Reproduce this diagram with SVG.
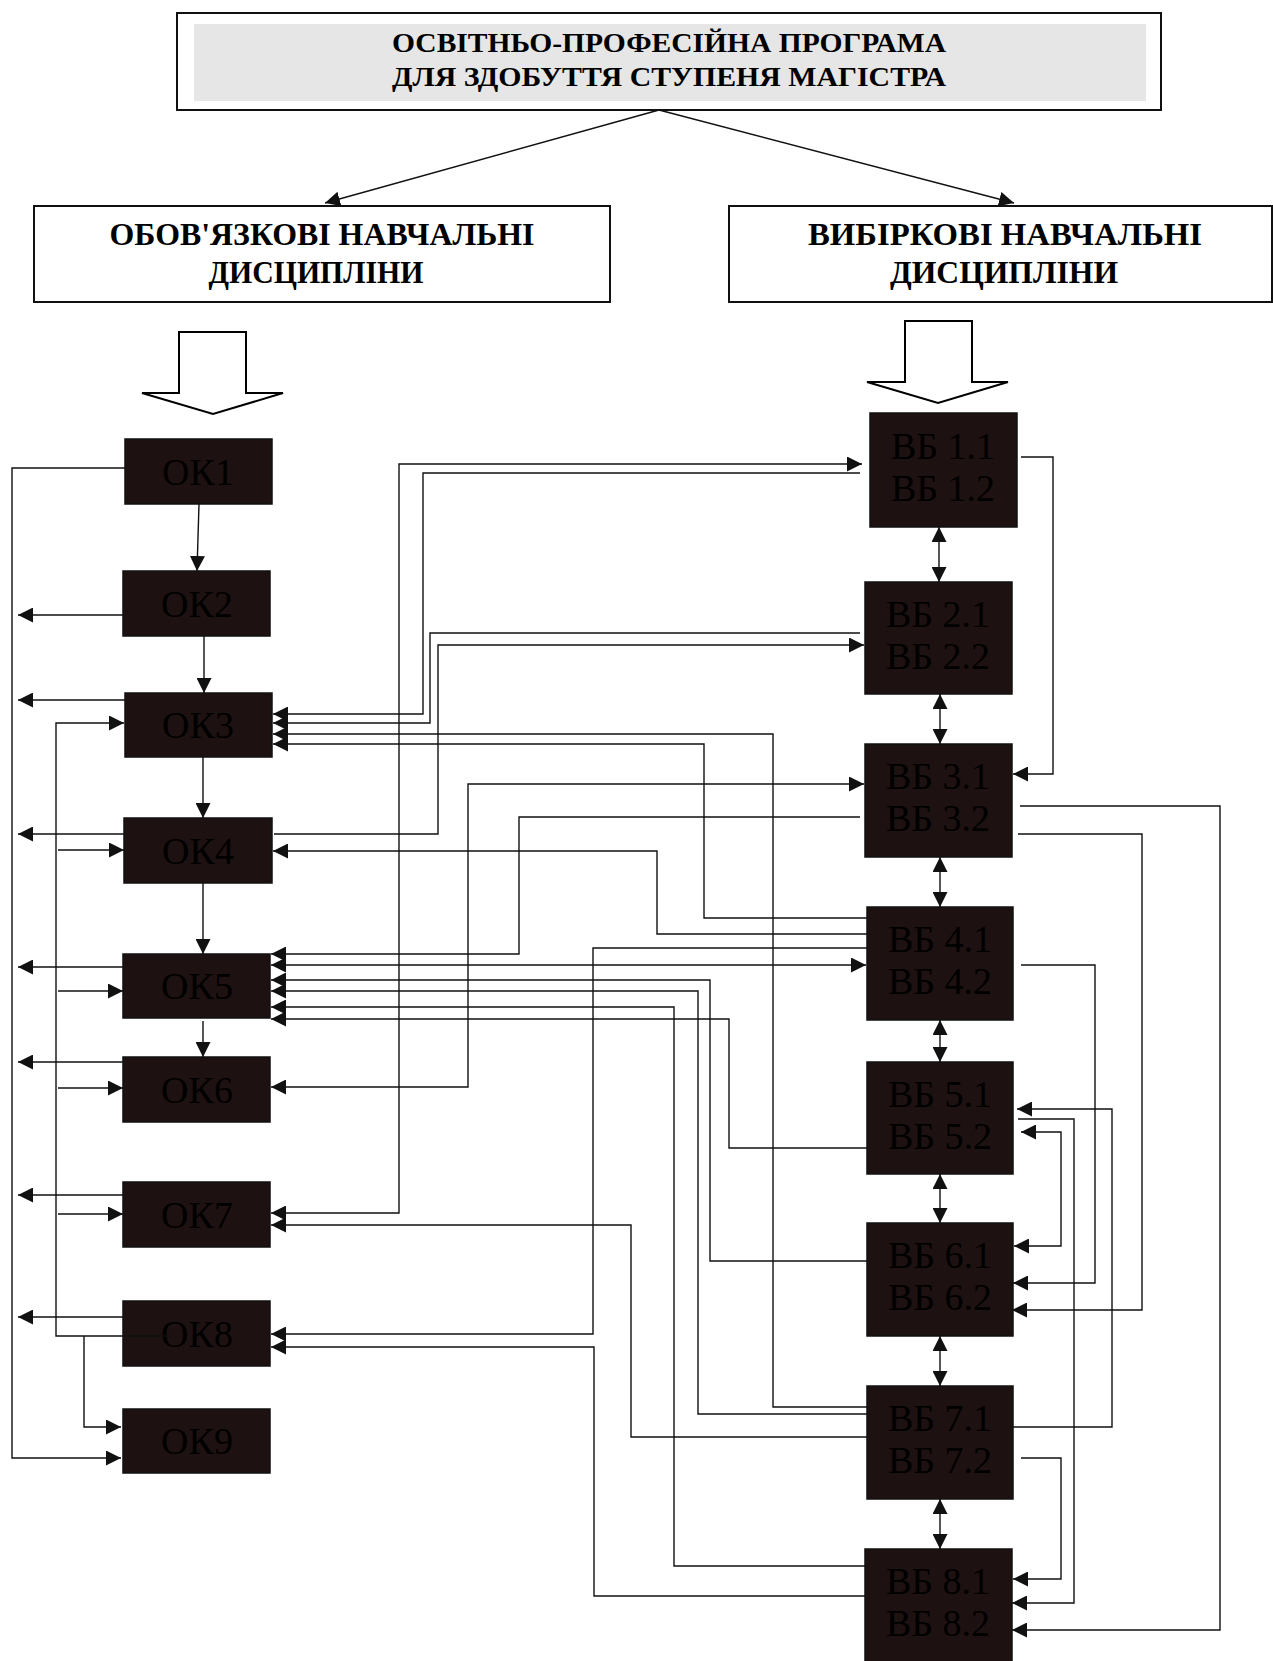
<svg xmlns="http://www.w3.org/2000/svg" width="1273" height="1661" viewBox="0 0 1273 1661">
<style>
.hdr{fill:#fff;stroke:#111;stroke-width:2}
.ht{font-family:"Liberation Serif",serif;font-weight:bold;fill:#000;text-anchor:middle}
.node{fill:#1e1111;stroke:#111;stroke-width:1.5}
.nt{font-family:"Liberation Serif",serif;font-size:38px;fill:#000;text-anchor:middle}
.c{fill:none;stroke:#111;stroke-width:1.4}
.e{marker-end:url(#a)}
.s{marker-start:url(#a)}
.hollow{fill:#fff;stroke:#000;stroke-width:2}
</style>
<defs>
<marker id="a" markerUnits="userSpaceOnUse" markerWidth="15" markerHeight="15" refX="15" refY="7.5" orient="auto-start-reverse">
<path d="M0,0 L15,7.5 L0,15 z" fill="#111"/>
</marker>
</defs>
<rect width="1273" height="1661" fill="#fff"/>

<g id="program">
<rect class="hdr" x="177" y="13" width="984" height="97"/>
<rect x="194" y="24" width="952" height="77" fill="#e6e6e6"/>
<text class="ht" x="669" y="52" font-size="27" textLength="554" lengthAdjust="spacingAndGlyphs">ОСВІТНЬО-ПРОФЕСІЙНА ПРОГРАМА</text>
<text class="ht" x="669" y="86" font-size="27" textLength="554" lengthAdjust="spacingAndGlyphs">ДЛЯ ЗДОБУТТЯ СТУПЕНЯ МАГІСТРА</text>
</g>

<g id="mandatory">
<rect class="hdr" x="34" y="206" width="576" height="96"/>
<text class="ht" x="322" y="245" font-size="32" textLength="425" lengthAdjust="spacingAndGlyphs">ОБОВ'ЯЗКОВІ НАВЧАЛЬНІ</text>
<text class="ht" x="316" y="283" font-size="32" textLength="215" lengthAdjust="spacingAndGlyphs">ДИСЦИПЛІНИ</text>
</g>

<g id="elective">
<rect class="hdr" x="729" y="206" width="543" height="96"/>
<text class="ht" x="1005" y="245" font-size="32" textLength="394" lengthAdjust="spacingAndGlyphs">ВИБІРКОВІ  НАВЧАЛЬНІ</text>
<text class="ht" x="1004" y="283" font-size="32" textLength="228" lengthAdjust="spacingAndGlyphs">ДИСЦИПЛІНИ</text>
</g>

<g id="hollow-arrows">
<polygon class="hollow" points="179,332 246,332 246,393 283,393 213,414 142,393 179,393"/>
<polygon class="hollow" points="905,321 972,321 972,382 1008,382 938,403 867,382 905,382"/>
</g>

<g id="OK1"><rect class="node" x="125" y="439" width="147" height="65"/><text class="nt" x="198" y="485">ОК1</text></g>
<g id="OK2"><rect class="node" x="123" y="571" width="147" height="65"/><text class="nt" x="197" y="617">ОК2</text></g>
<g id="OK3"><rect class="node" x="125" y="693" width="147" height="64"/><text class="nt" x="198" y="738">ОК3</text></g>
<g id="OK4"><rect class="node" x="124" y="818" width="148" height="65"/><text class="nt" x="198" y="864">ОК4</text></g>
<g id="OK5"><rect class="node" x="123" y="954" width="147" height="64"/><text class="nt" x="197" y="999">ОК5</text></g>
<g id="OK6"><rect class="node" x="123" y="1057" width="147" height="65"/><text class="nt" x="197" y="1103">ОК6</text></g>
<g id="OK7"><rect class="node" x="123" y="1182" width="147" height="65"/><text class="nt" x="197" y="1228">ОК7</text></g>
<g id="OK8"><rect class="node" x="123" y="1301" width="147" height="65"/><text class="nt" x="197" y="1347">ОК8</text></g>
<g id="OK9"><rect class="node" x="123" y="1409" width="147" height="64"/><text class="nt" x="197" y="1454">ОК9</text></g>

<g id="VB1"><rect class="node" x="870" y="413" width="147" height="114"/><text class="nt" x="943" y="459">ВБ 1.1</text><text class="nt" x="943" y="501">ВБ 1.2</text></g>
<g id="VB2"><rect class="node" x="865" y="582" width="147" height="112"/><text class="nt" x="938" y="627">ВБ 2.1</text><text class="nt" x="938" y="669">ВБ 2.2</text></g>
<g id="VB3"><rect class="node" x="865" y="744" width="147" height="113"/><text class="nt" x="938" y="789">ВБ 3.1</text><text class="nt" x="938" y="831">ВБ 3.2</text></g>
<g id="VB4"><rect class="node" x="867" y="907" width="146" height="113"/><text class="nt" x="940" y="952">ВБ 4.1</text><text class="nt" x="940" y="994">ВБ 4.2</text></g>
<g id="VB5"><rect class="node" x="867" y="1062" width="146" height="112"/><text class="nt" x="940" y="1107">ВБ 5.1</text><text class="nt" x="940" y="1149">ВБ 5.2</text></g>
<g id="VB6"><rect class="node" x="867" y="1223" width="146" height="113"/><text class="nt" x="940" y="1268">ВБ 6.1</text><text class="nt" x="940" y="1310">ВБ 6.2</text></g>
<g id="VB7"><rect class="node" x="867" y="1386" width="146" height="113"/><text class="nt" x="940" y="1431">ВБ 7.1</text><text class="nt" x="940" y="1473">ВБ 7.2</text></g>
<g id="VB8"><rect class="node" x="865" y="1549" width="147" height="130"/><text class="nt" x="938" y="1594">ВБ 8.1</text><text class="nt" x="938" y="1636">ВБ 8.2</text></g>

<g id="connectors">
<path class="c e" d="M659,110 L325,203"/>
<path class="c e" d="M659,110 L1014,203"/>
<path class="c e" d="M199,504 L197,571"/>
<path class="c e" d="M204,636 L204,693"/>
<path class="c e" d="M203,757 L203,818"/>
<path class="c e" d="M203,883 L203,954"/>
<path class="c e" d="M203,1021 L203,1057"/>
<path class="c e" d="M123,615 L18,615"/>
<path class="c e" d="M125,700 L18,700"/>
<path class="c e" d="M124,834 L18,834"/>
<path class="c e" d="M123,967 L18,967"/>
<path class="c e" d="M123,1062 L18,1062"/>
<path class="c e" d="M123,1195 L18,1195"/>
<path class="c e" d="M123,1317 L18,1317"/>
<path class="c e" d="M125,468 L12,468 L12,1458 L121,1458"/>
<path class="c e" d="M172,1336 L56,1336 L56,723 L124,723"/>
<path class="c e" d="M84,1336 L84,1427 L121,1427"/>
<path class="c e" d="M58,850 L124,850"/>
<path class="c e" d="M58,991 L123,991"/>
<path class="c e" d="M58,1088 L123,1088"/>
<path class="c e" d="M58,1214 L123,1214"/>
<path class="c s e" d="M862,464 L399,464 L399,1213 L271,1213"/>
<path class="c e" d="M860,473 L423,473 L423,714 L273,714"/>
<path class="c e" d="M860,633 L430,633 L430,723 L273,723"/>
<path class="c e" d="M867,1407 L773,1407 L773,734 L273,734"/>
<path class="c e" d="M867,918 L704,918 L704,744 L273,744"/>
<path class="c e" d="M274,834 L438,834 L438,645 L864,645"/>
<path class="c e" d="M867,934 L657,934 L657,851 L273,851"/>
<path class="c e" d="M860,817 L519,817 L519,954 L271,954"/>
<path class="c s e" d="M271,965 L866,965"/>
<path class="c e" d="M867,1261 L710,1261 L710,980 L271,980"/>
<path class="c e" d="M867,1414 L698,1414 L698,991 L271,991"/>
<path class="c e" d="M865,1566 L674,1566 L674,1007 L271,1007"/>
<path class="c e" d="M867,1148 L729,1148 L729,1019 L271,1019"/>
<path class="c s e" d="M271,1087 L468,1087 L468,784 L864,784"/>
<path class="c e" d="M867,1437 L631,1437 L631,1225 L271,1225"/>
<path class="c e" d="M867,948 L593,948 L593,1334 L271,1334"/>
<path class="c e" d="M865,1596 L594,1596 L594,1347 L271,1347"/>
<path class="c s e" d="M939,527 L939,582"/>
<path class="c s e" d="M940,694 L940,744"/>
<path class="c s e" d="M940,857 L940,907"/>
<path class="c s e" d="M940,1020 L940,1062"/>
<path class="c s e" d="M940,1174 L940,1223"/>
<path class="c s e" d="M940,1336 L940,1386"/>
<path class="c s e" d="M940,1499 L940,1549"/>
<path class="c e" d="M1021,457 L1053,457 L1053,774 L1013,774"/>
<path class="c e" d="M1020,806 L1220,806 L1220,1630 L1012,1630"/>
<path class="c e" d="M1018,834 L1142,834 L1142,1310 L1012,1310"/>
<path class="c e" d="M1021,965 L1095,965 L1095,1283 L1013,1283"/>
<path class="c e" d="M1010,1427 L1112,1427 L1112,1109 L1017,1109"/>
<path class="c e" d="M1018,1119 L1074,1119 L1074,1603 L1012,1603"/>
<path class="c s e" d="M1021,1132 L1061,1132 L1061,1246 L1014,1246"/>
<path class="c e" d="M1021,1458 L1061,1458 L1061,1579 L1013,1579"/>
</g>
</svg>
